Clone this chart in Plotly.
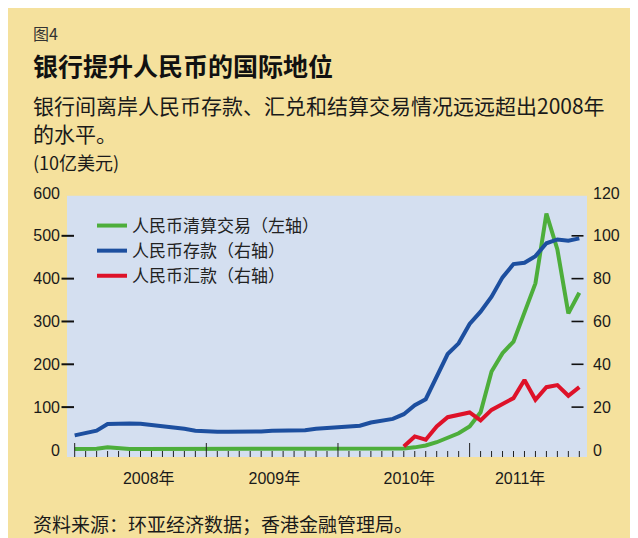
import plotly.graph_objects as go

# ---------------- data ----------------
months = [f"{y}-{m:02d}" for y in (2008, 2009, 2010, 2011) for m in range(1, 13)][:47]
year_labels = ["2008年", "2009年", "2010年", "2011年"]
year_starts = ["2008-01", "2009-01", "2010-01", "2011-01"]

# 人民币清算交易（左轴）, 10亿美元
settlement = [2, 2, 3, 6, 3, 2, 2, 2, 2, 2, 2, 2,
              2, 2, 2, 2, 2, 2, 2, 2, 2, 2, 2, 2,
              2, 2, 2, 2, 2, 2, 3.5, 6, 10.5, 18, 29, 39,
              55, 88, 183, 226, 253, 320, 389, 552, 468, 319, 367]
# 人民币存款（右轴）
deposits = [6.8, 7.9, 9.0, 12.1, 12.4, 12.4, 12.2, 11.6, 11.3, 10.7, 9.9, 9.0,
            8.6, 8.5, 8.5, 8.5, 8.5, 8.6, 9.0, 9.1, 9.4, 9.2, 9.9, 10.2,
            10.3, 10.7, 11.3, 12.8, 13.8, 14.5, 16.7, 20.9, 23.7, 34.3, 44.8, 49.8,
            58.8, 64.6, 71.6, 80.6, 86.8, 87.4, 90.5, 96.5, 98.3, 97.7, 98.8]
# 人民币汇款（右轴）, from 2010-07
remittance = [1.6, 6.3, 4.8, 11.0, 15.3, 16.4, 17.5, 13.8, 18.7, 21.5, 24.2,
              32.7, 23.4, 29.3, 30.3, 25.3, 29.3]

left_ticks = [0, 100, 200, 300, 400, 500, 600]
right_ticks = [0, 20, 40, 60, 80, 100, 120]

# ---------------- styling / layout ----------------
OFF = 8                      # page body margin
W, H = 630, 530
L, R, T, B = 59, 51, 185, 81
PW, PH = W - L - R, H - T - B

def px(xp):                  # screen x -> paper x
    return (xp - OFF - L) / PW

def py(yp):                  # screen y -> paper y
    return (H - B - (yp - OFF)) / PH

YELLOW = "#F5E19D"
PLOTBG = "#D4DFF0"
GREEN = "#4DAE3B"
BLUE = "#1D4F9F"
RED = "#DE1229"
INK = "#1a1a1a"
TICK = "#222222"
CJK = "Noto Sans CJK SC"
NUM = "Liberation Sans, Noto Sans CJK SC"

idx = list(range(len(months)))
rem_idx = idx[len(idx) - len(remittance):]
year_tick_idx = [months.index(s) for s in year_starts]
year_label_pos = [6.75, 18.2, 30.5, 40.6]

YMIN, YMAX = -16.5, 600
XMIN, XMAX = -0.70, 46.7

fig = go.Figure()
fig.add_trace(go.Scatter(x=idx, y=settlement, mode="lines", name="人民币清算交易（左轴）",
                         line=dict(color=GREEN, width=4), xaxis="x", yaxis="y"))
fig.add_trace(go.Scatter(x=idx, y=deposits, mode="lines", name="人民币存款（右轴）",
                         line=dict(color=BLUE, width=4), xaxis="x", yaxis="y2"))
fig.add_trace(go.Scatter(x=rem_idx, y=remittance, mode="lines", name="人民币汇款（右轴）",
                         line=dict(color=RED, width=4), xaxis="x", yaxis="y2"))

axis_common = dict(showgrid=False, zeroline=False, showline=False)

fig.update_layout(
    width=W, height=H,
    margin=dict(l=L, r=R, t=T, b=B, pad=0),
    paper_bgcolor=YELLOW,
    plot_bgcolor="rgba(0,0,0,0)",
    font=dict(family=CJK, color=INK),
    showlegend=True,
    legend=dict(x=px(92), y=py(208), xanchor="left", yanchor="top",
                bgcolor="rgba(0,0,0,0)", borderwidth=0,
                font=dict(family=CJK, size=17, color="#222"),
                itemwidth=30, tracegroupgap=0),
    xaxis=dict(range=[XMIN, XMAX], tickmode="array", tickvals=year_label_pos,
               ticktext=year_labels, ticks="", tickfont=dict(family=NUM, size=16, color=INK),
               ticklabelstandoff=10, **axis_common),
    yaxis=dict(range=[YMIN, YMAX], tickmode="array", tickvals=left_ticks, ticks="",
               tickfont=dict(family=NUM, size=16, color=INK), ticklabelstandoff=6,
               **axis_common),
    yaxis2=dict(range=[YMIN / 5, YMAX / 5], overlaying="y", side="right", anchor="x",
                tickmode="array", tickvals=right_ticks, ticks="",
                tickfont=dict(family=NUM, size=16, color=INK), ticklabelstandoff=5,
                **axis_common),
)

# plot background (light blue) stops just below the 600 label
fig.add_shape(type="rect", xref="paper", yref="paper", x0=0, x1=1, y0=0, y1=py(195.7),
              fillcolor=PLOTBG, line=dict(width=0), layer="below")

# monthly ticks, longer at year boundaries
for i in idx:
    tl = 14 if i in year_tick_idx else 6
    fig.add_shape(type="line", xref="x", yref="paper", x0=i, x1=i, y0=0, y1=tl / PH,
                  line=dict(color=TICK, width=1))
# left-axis tick dashes (straddling the plot edge) and right-axis dashes (inside)
for v in left_ticks[1:-1]:
    fig.add_shape(type="line", xref="paper", yref="y", x0=px(61.5), x1=px(74), y0=v, y1=v,
                  line=dict(color="#111", width=2))
for v in right_ticks[1:-1]:
    fig.add_shape(type="line", xref="paper", yref="y2", x0=px(571.5), x1=px(583.5), y0=v, y1=v,
                  line=dict(color="#111", width=1.6))

def note(text, x, y, size, color=INK, family=CJK):
    fig.add_annotation(text=text, xref="paper", yref="paper", x=px(x), y=py(y),
                       xanchor="left", yanchor="middle", showarrow=False,
                       font=dict(family=family, size=size, color=color), align="left")

note("图4", 31, 32.5, 16, "#333")
note("<b>银行提升人民币的国际地位</b>", 31, 65, 25, "#111")
note("银行间离岸人民币存款、汇兑和结算交易情况远远超出2008年", 31, 105, 21, "#1a1a1a")
note("的水平。", 31, 133.3, 21, "#1a1a1a")
note("(10亿美元)", 31, 161.7, 18, "#1a1a1a")
note("资料来源：环亚经济数据；香港金融管理局。", 31, 523.3, 19, "#1a1a1a")

fig.write_html("out.html")
